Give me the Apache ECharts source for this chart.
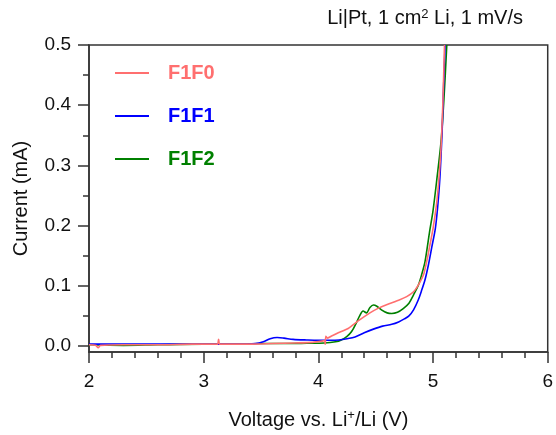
<!DOCTYPE html>
<html>
<head>
<meta charset="utf-8">
<script src="https://cdn.jsdelivr.net/npm/echarts@6/dist/echarts.min.js"></script>
<style>
html,body{margin:0;padding:0;background:#fff;}
#chart{width:556px;height:435px;}
</style>
</head>
<body>
<div id="chart"></div>
<script>
// ---- data ----
var seriesNames = ['F1F0', 'F1F1', 'F1F2'];
var xTickLabels = [2, 3, 4, 5, 6];
var yTickLabels = [0.0, 0.1, 0.2, 0.3, 0.4, 0.5];
var yMinorTicks = [0.05, 0.15, 0.25, 0.35, 0.45];

var voltageF1F0 = [2.0, 2.06, 2.08, 2.1, 2.3, 2.6, 2.9, 3.12, 3.13, 3.14, 3.4, 3.6, 3.8, 3.95, 4.03, 4.055, 4.06, 4.065, 4.08, 4.12, 4.2, 4.26, 4.35, 4.45, 4.52, 4.6, 4.7, 4.77, 4.83, 4.88, 4.92, 4.95, 4.97, 5.0, 5.03, 5.05, 5.07, 5.085, 5.1];
var currentF1F0 = [0.002, 0.001, -0.003, 0.001, 0.002, 0.002, 0.003, 0.003, 0.011, 0.003, 0.003, 0.004, 0.005, 0.006, 0.008, 0.009, 0.003, 0.016, 0.013, 0.017, 0.024, 0.029, 0.042, 0.055, 0.0625, 0.069, 0.076, 0.082, 0.090, 0.104, 0.120, 0.145, 0.165, 0.195, 0.235, 0.275, 0.330, 0.400, 0.5];

var voltageF1F1 = [2.0, 2.2, 2.5, 2.8, 3.1, 3.3, 3.45, 3.52, 3.58, 3.64, 3.7, 3.78, 3.9, 4.0, 4.1, 4.18, 4.25, 4.32, 4.4, 4.48, 4.56, 4.64, 4.7, 4.75, 4.79, 4.83, 4.87, 4.9, 4.93, 4.96, 4.99, 5.02, 5.04, 5.06, 5.08, 5.09, 5.105];
var currentF1F1 = [0.003, 0.003, 0.003, 0.003, 0.003, 0.003, 0.004, 0.007, 0.012, 0.014, 0.013, 0.011, 0.010, 0.0095, 0.0095, 0.010, 0.012, 0.015, 0.022, 0.028, 0.033, 0.036, 0.040, 0.045, 0.050, 0.060, 0.076, 0.092, 0.110, 0.135, 0.165, 0.195, 0.230, 0.280, 0.360, 0.420, 0.5];

var voltageF1F2 = [2.0, 2.3, 2.6, 3.0, 3.3, 3.5, 3.7, 3.9, 4.05, 4.15, 4.2, 4.25, 4.29, 4.33, 4.36, 4.39, 4.42, 4.45, 4.48, 4.51, 4.55, 4.6, 4.64, 4.69, 4.74, 4.79, 4.83, 4.87, 4.9, 4.93, 4.97, 5.0, 5.035, 5.07, 5.095, 5.12];
var currentF1F2 = [0.002, 0.001, 0.002, 0.003, 0.003, 0.004, 0.004, 0.0045, 0.005, 0.007, 0.010, 0.016, 0.024, 0.038, 0.050, 0.058, 0.055, 0.064, 0.068, 0.066, 0.060, 0.055, 0.054, 0.056, 0.062, 0.071, 0.085, 0.100, 0.118, 0.140, 0.190, 0.225, 0.280, 0.340, 0.410, 0.5];

function pairs(xs, ys) { return xs.map(function (x, i) { return [x, ys[i]]; }); }

var FONT = '"Liberation Sans", Arial, sans-serif';
var colors = ['#ff6f6f', '#0000ff', '#008000'];

var chart = echarts.init(document.getElementById('chart'), null, {renderer: 'canvas'});
var option = {
  animation: false,
  backgroundColor: '#ffffff',
  title: {
    text: 'Li|Pt, 1 cm{sup|2} Li, 1 mV/s',
    right: 28,
    top: 3,
    textStyle: {
      fontFamily: FONT, fontSize: 20, fontWeight: 'normal', color: '#111',
      rich: { sup: { fontFamily: FONT, fontSize: 13, color: '#111', verticalAlign: 'top', lineHeight: 14, padding: [0, 0, 9, 0] } }
    }
  },
  legend: {
    orient: 'vertical',
    left: 110,
    top: 58,
    itemWidth: 34,
    itemHeight: 2,
    itemGap: 23,
    icon: 'rect',
    data: seriesNames.map(function (n, i) {
      return { name: n, textStyle: { color: colors[i] } };
    }),
    textStyle: { fontFamily: FONT, fontSize: 20, fontWeight: 'bold', padding: [0, 0, 0, 14] }
  },
  grid: {
    left: 89, right: 6, top: 45, bottom: 83,
    show: true, borderColor: '#333', borderWidth: 1.5, backgroundColor: 'transparent'
  },
  xAxis: {
    type: 'value', min: 2, max: 6, interval: 1,
    name: 'Voltage vs. Li{sup|+}/Li (V)',
    nameLocation: 'middle', nameGap: 57,
    nameTextStyle: {
      fontFamily: FONT, fontSize: 20, color: '#111',
      rich: { sup: { fontFamily: FONT, fontSize: 13, color: '#111', padding: [0, 0, 9, 0] } }
    },
    axisLine: { show: true, onZero: false, lineStyle: { color: '#333', width: 1.5 } },
    axisTick: { show: true, inside: false, length: 11, lineStyle: { color: '#333', width: 1.5 } },
    minorTick: { show: true, splitNumber: 5, length: 6, lineStyle: { color: '#333', width: 1.5 } },
    axisLabel: { fontFamily: FONT, fontSize: 19, color: '#111', margin: 20,
      customValues: xTickLabels },
    splitLine: { show: false }
  },
  yAxis: [{
    type: 'value', min: -0.01, max: 0.5,
    name: 'Current (mA)',
    nameLocation: 'middle', nameGap: 58,
    nameTextStyle: { fontFamily: FONT, fontSize: 20, color: '#111' },
    axisLine: { show: true, onZero: false, lineStyle: { color: '#333', width: 1.5 } },
    axisTick: { show: true, inside: false, length: 11, customValues: yTickLabels, lineStyle: { color: '#333', width: 1.5 } },
    axisLabel: { fontFamily: FONT, fontSize: 19, color: '#111', margin: 18, customValues: yTickLabels,
      formatter: function (v) { return v.toFixed(1); } },
    splitLine: { show: false }
  }, {
    type: 'value', min: -0.01, max: 0.5, position: 'left', offset: 0,
    axisLine: { show: false },
    axisTick: { show: true, inside: false, length: 6, customValues: yMinorTicks, lineStyle: { color: '#333', width: 1.5 } },
    axisLabel: { show: false },
    splitLine: { show: false }
  }],
  series: [
    { name: 'F1F0', type: 'line', data: pairs(voltageF1F0, currentF1F0), symbol: 'none', smooth: 0.2, z: 4,
      lineStyle: { color: colors[0], width: 1.6 }, itemStyle: { color: colors[0] } },
    { name: 'F1F1', type: 'line', data: pairs(voltageF1F1, currentF1F1), symbol: 'none', smooth: 0.3, z: 3,
      lineStyle: { color: colors[1], width: 1.6 }, itemStyle: { color: colors[1] } },
    { name: 'F1F2', type: 'line', data: pairs(voltageF1F2, currentF1F2), symbol: 'none', smooth: 0.3, z: 2,
      lineStyle: { color: colors[2], width: 1.6 }, itemStyle: { color: colors[2] } }
  ]
};
chart.setOption(option);
</script>
</body>
</html>
